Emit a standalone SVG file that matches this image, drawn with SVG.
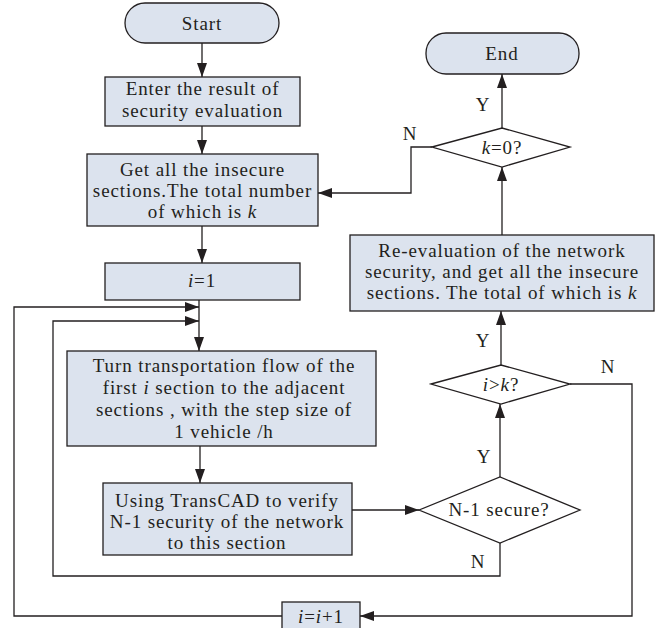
<svg xmlns="http://www.w3.org/2000/svg" width="657" height="628" viewBox="0 0 657 628">
<defs>
<marker id="arr" markerUnits="userSpaceOnUse" markerWidth="14" markerHeight="10" refX="14" refY="5" orient="auto">
<path d="M0,0 L14,5 L0,10 z" fill="#231f20"/>
</marker>
<style>
.box{fill:#dce3ee;stroke:#231f20;stroke-width:1.3}
.dia{fill:#ffffff;stroke:#231f20;stroke-width:1.3}
.ln{fill:none;stroke:#231f20;stroke-width:1.3}
.ar{fill:none;stroke:#231f20;stroke-width:1.3;marker-end:url(#arr)}
text{font-family:"Liberation Serif","Times New Roman",serif;font-size:19px;letter-spacing:0.9px;fill:#231f20;text-anchor:middle}
.it{font-style:italic}
</style>
</defs>
<rect width="657" height="628" fill="#ffffff"/>
<g id="connectors">
<line class="ar" x1="202" y1="43" x2="202" y2="77"/>
<line class="ar" x1="202" y1="126" x2="202" y2="154"/>
<line class="ar" x1="202" y1="226" x2="202" y2="263"/>
<line class="ar" x1="199" y1="300" x2="199" y2="351"/>
<polyline class="ar" points="282,616 14,616 14,307 199,307"/>
<polyline class="ar" points="500,543 500,576 53,576 53,321 199,321"/>
<line class="ar" x1="200" y1="446" x2="200" y2="483"/>
<line class="ar" x1="352" y1="510" x2="419" y2="510"/>
<line class="ar" x1="500" y1="477" x2="500" y2="404"/>
<line class="ar" x1="501" y1="365" x2="501" y2="311"/>
<polyline class="ar" points="570,384 632,384 632,616 360,616"/>
<line class="ar" x1="502" y1="235" x2="502" y2="167"/>
<line class="ar" x1="502" y1="128" x2="502" y2="74"/>
<polyline class="ar" points="432,147 411,147 411,193 318,193"/>
<text x="483" y="111">Y</text>
<text x="410" y="140">N</text>
<text x="483" y="347">Y</text>
<text x="608" y="373">N</text>
<text x="484" y="463">Y</text>
<text x="478" y="568">N</text>
</g>
<g id="start">
<rect class="box" x="125" y="3" width="154" height="40" rx="20" ry="20"/>
<text x="202" y="30">Start</text>
</g>
<g id="enter">
<rect class="box" x="105" y="77" width="195" height="49"/>
<text x="202.5" y="95">Enter the result of</text>
<text x="202.5" y="117">security evaluation</text>
</g>
<g id="get">
<rect class="box" x="87" y="154" width="231" height="72"/>
<text x="202.5" y="175.5">Get all the insecure</text>
<text x="202.5" y="196.8">sections.The total number</text>
<text x="202.5" y="218.1">of which is <tspan class="it">k</tspan></text>
</g>
<g id="init">
<rect class="box" x="105" y="263" width="195" height="37"/>
<text x="202" y="287"><tspan class="it">i</tspan>=1</text>
</g>
<g id="turn">
<rect class="box" x="67" y="351" width="309" height="95"/>
<text x="224" y="372">Turn transportation flow of the</text>
<text x="224" y="394">first <tspan class="it">i</tspan> section to the adjacent</text>
<text x="224" y="416">sections , with the step size of</text>
<text x="224" y="438">1 vehicle /h</text>
</g>
<g id="verify">
<rect class="box" x="103" y="483" width="249" height="72"/>
<text x="227" y="506.5">Using TransCAD to verify</text>
<text x="227" y="527.7">N-1 security of the network</text>
<text x="227" y="548.9">to this section</text>
</g>
<g id="secure">
<polygon class="dia" points="419,510 500,477 580,510 500,543"/>
<text x="499" y="516">N-1 secure?</text>
</g>
<g id="compare">
<polygon class="dia" points="431,384 501,365 570,384 501,404"/>
<text x="501" y="391"><tspan class="it">i</tspan>&gt;<tspan class="it">k</tspan>?</text>
</g>
<g id="reeval">
<rect class="box" x="350" y="235" width="304" height="76"/>
<text x="502" y="256.5">Re-evaluation of the network</text>
<text x="502" y="277.7">security, and get all the insecure</text>
<text x="502" y="298.9">sections. The total of which is <tspan class="it">k</tspan></text>
</g>
<g id="kzero">
<polygon class="dia" points="432,147 502,128 570,147 502,167"/>
<text x="502" y="154"><tspan class="it">k</tspan>=0?</text>
</g>
<g id="end">
<rect class="box" x="426" y="33" width="153" height="41" rx="20" ry="20"/>
<text x="502" y="60">End</text>
</g>
<g id="incr">
<rect class="box" x="282" y="602" width="78" height="32"/>
<text x="321" y="623"><tspan class="it">i</tspan>=<tspan class="it">i</tspan>+1</text>
</g>
</svg>
